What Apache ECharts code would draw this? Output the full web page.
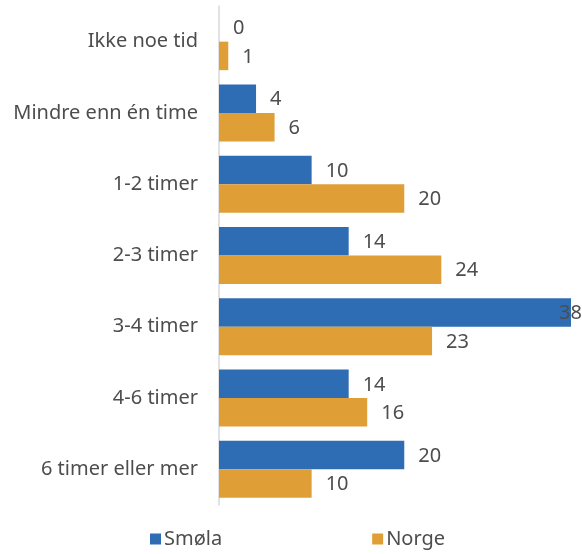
<!DOCTYPE html>
<html>
<head>
<meta charset="utf-8">
<script src="https://cdn.jsdelivr.net/npm/echarts@6/dist/echarts.min.js"></script>
<style>
  html, body { margin: 0; padding: 0; background: #fff; }
  #chart { width: 582px; height: 554px; }
</style>
</head>
<body>
<div id="chart"></div>
<script>
// Time spent per day, Smøla vs. Norge (percent)
const categories = ['Ikke noe tid', 'Mindre enn én time', '1-2 timer', '2-3 timer', '3-4 timer', '4-6 timer', '6 timer eller mer'];
const smolaValues = [0, 4, 10, 14, 38, 14, 20];
const norgeValues = [1, 6, 20, 24, 23, 16, 10];
const seriesNames = ['Smøla', 'Norge'];

const textColor = '#4d4d4d';
const fontFamily = 'Noto Sans, sans-serif';
const fontSize = 20;
const xMax = 38;

// Labels that would run past the plot edge are pulled inside the bar end
function labelled(values) {
  return values.map(v => {
    if (v >= xMax * 0.95) {
      return { value: v, label: { position: 'insideRight', distance: 0, offset: [11, 1] } };
    }
    return v;
  });
}

const valueLabel = {
  show: true,
  position: 'right',
  distance: 14,
  offset: [0, 1],
  color: textColor,
  fontSize: fontSize,
  fontFamily: fontFamily
};

const chart = echarts.init(document.getElementById('chart'), null, { renderer: 'canvas' });
chart.setOption({
  animation: false,
  textStyle: { fontFamily: fontFamily },
  grid: { left: 219, right: 11, top: 6, bottom: 49, containLabel: false },
  legend: {
    bottom: 0,
    left: 145,
    itemWidth: 11,
    itemHeight: 11,
    itemGap: 150,
    icon: 'rect',
    textStyle: { color: textColor, fontSize: fontSize, fontFamily: fontFamily, padding: [0, 0, 0, -2] },
    data: seriesNames
  },
  xAxis: {
    type: 'value',
    min: 0,
    max: xMax,
    show: false
  },
  yAxis: {
    type: 'category',
    inverse: true,
    data: categories,
    axisLine: { show: true, lineStyle: { color: '#d9d9d9', width: 1.5 } },
    axisTick: { show: false },
    axisLabel: { color: textColor, fontSize: fontSize, margin: 21, fontFamily: fontFamily }
  },
  series: [
    {
      name: seriesNames[0],
      type: 'bar',
      data: labelled(smolaValues),
      barGap: '0%',
      barCategoryGap: '20%',
      itemStyle: { color: '#2e6db4' },
      label: valueLabel
    },
    {
      name: seriesNames[1],
      type: 'bar',
      data: labelled(norgeValues),
      barGap: '0%',
      barCategoryGap: '20%',
      itemStyle: { color: '#e09e36' },
      label: valueLabel
    }
  ]
});
</script>
</body>
</html>
